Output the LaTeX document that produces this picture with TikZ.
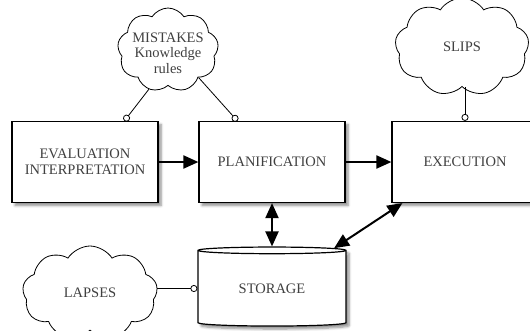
\documentclass[tikz,border=0pt]{standalone}
\usepackage{fontspec}
\setmainfont{Liberation Serif}
\usetikzlibrary{shapes.symbols,shapes.geometric,arrows.meta,shadows.blur,calc}
\begin{document}
\begin{tikzpicture}[x=1pt,y=-1pt,
  lbl/.style={text=black!75, font=\fontsize{14.5}{15.5}\selectfont, align=center},
  shad/.style={blur shadow={shadow xshift=3pt, shadow yshift=-3pt, shadow blur radius=2.5pt, shadow blur steps=6, shadow opacity=45}},
  box/.style={lbl, draw, line width=1.2pt, fill=white, minimum width=146pt, minimum height=81pt, inner sep=0pt, shad},
  thought/.style={lbl, cloud, cloud puffs=9, cloud puff arc=115, cloud ignores aspect, draw, line width=0.8pt, inner sep=0pt},
  drum/.style={lbl, cylinder, shape border rotate=90, draw, line width=1.2pt, fill=white, aspect=0.1, minimum width=148pt, minimum height=79pt, inner sep=0pt, shad},
  flow/.style={line width=2pt, -{Triangle[length=15pt,width=13pt]}},
  both/.style={line width=2pt, {Triangle[length=15pt,width=13pt]}-{Triangle[length=15pt,width=13pt]}},
  lolli/.style={line width=0.8pt, -{Circle[open, length=7pt, width=7pt, line width=0.8pt]}}
]
\clip (0,0) rectangle (530,330);
\node[box] (eval) at (85,162) {EVALUATION\\INTERPRETATION};
\node[box] (plan) at (272,162) {PLANIFICATION};
\node[box] (exec) at (465,162) {EXECUTION};
\node[thought, minimum width=101pt, minimum height=84pt,
      label={[lbl, yshift=-3pt]center:MISTAKES\\Knowledge\\rules}] (mist) at (168,50) {};
\node[thought, minimum width=134pt, minimum height=98pt] (slips) at (462,47) {SLIPS};
\node[thought, minimum width=135pt, minimum height=94pt] (lapse) at (90,293) {LAPSES};
\node[drum] (store) at (272,288.5) {STORAGE};

\draw[flow] (eval.east) -- (plan.west);
\draw[flow] (plan.east) -- (exec.west);
\draw[both] (plan.south) -- (store.north);
\draw[both] ($(exec.south west)+(11,0)$) -- (store.33);

\draw[lolli] (mist.244) -- ($(eval.north west)+(113,0)$);
\draw[lolli] (mist.318) -- ($(plan.north west)+(39,0)$);
\draw[lolli] (slips.south -| exec.north) -- (exec.north);
\draw[lolli] (lapse.east |- store.west) -- (store.west);
\end{tikzpicture}
\end{document}
